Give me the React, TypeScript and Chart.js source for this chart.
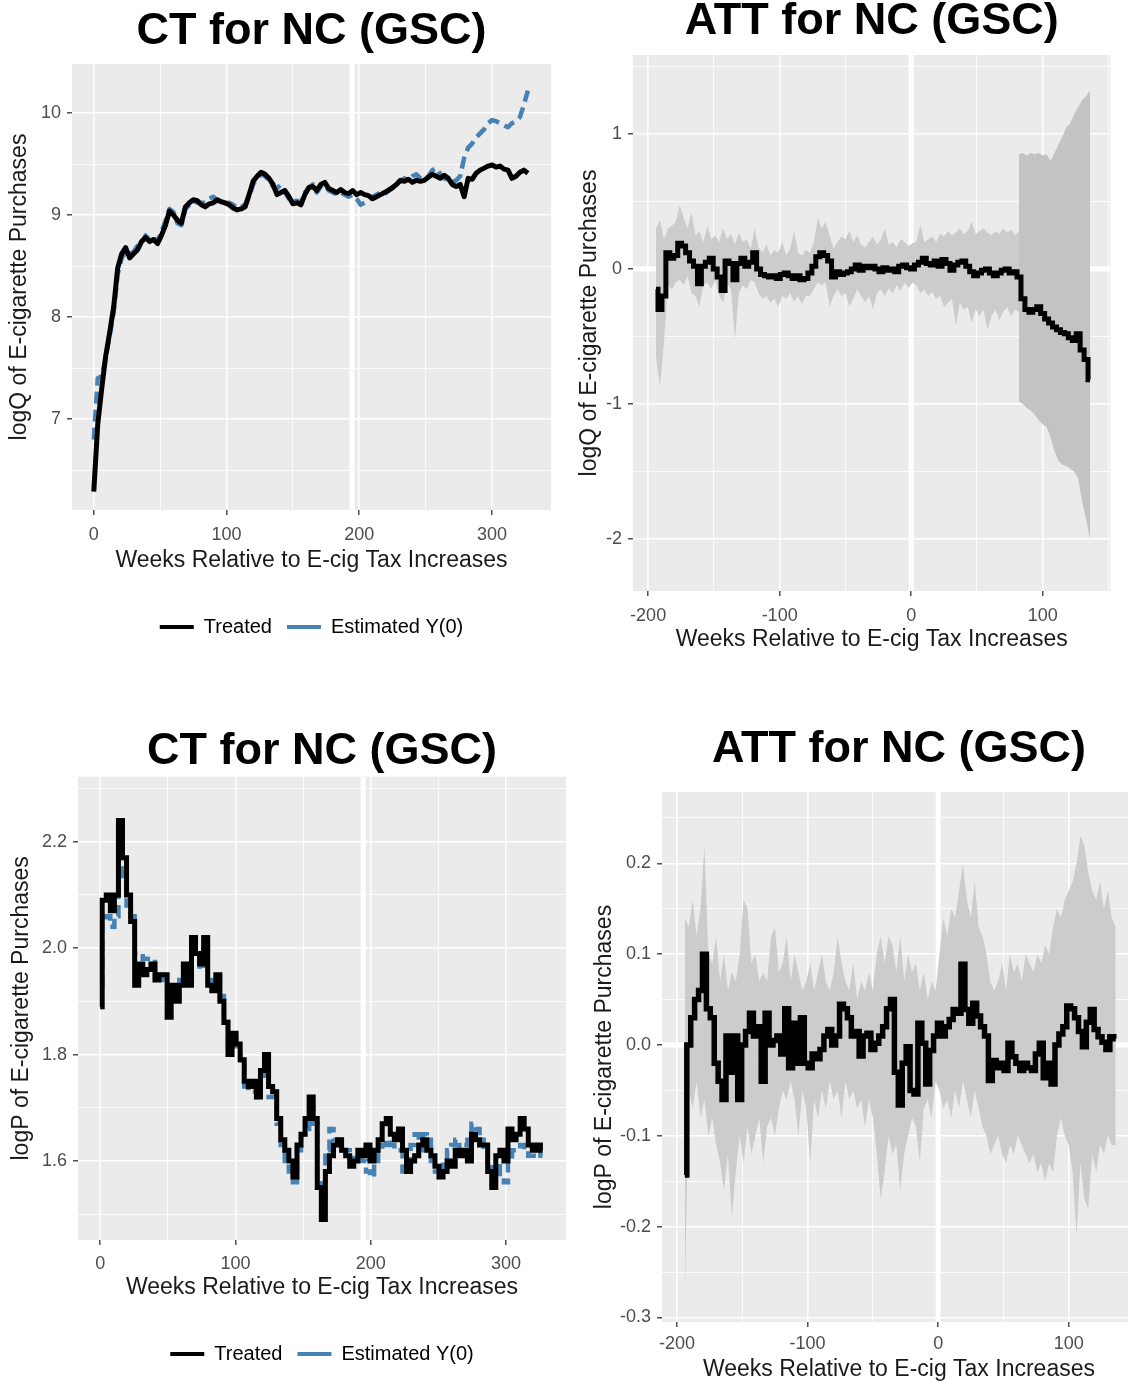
import React, { useEffect, useRef } from 'react';
import { Chart, registerables } from 'chart.js';

Chart.register(...registerables);

const FONT = "'Liberation Sans', Arial, Helvetica, sans-serif";
const WEEK_STEP = 3;
const CT_START_WEEK = 0;
const ATT_START_WEEK = -194;
const ATT_POST_START_WEEK = 82;
const TREATMENT_WEEK = 194.5;

const COLOR_TREATED = '#000000';
const COLOR_EST = '#4682B4';
const COLOR_BAND = '#CCCCCC';
const COLOR_BAND_POST = '#C3C3C3';
const COLOR_PANEL = '#EBEBEB';

const TITLE_CT = 'CT for NC (GSC)';
const TITLE_ATT = 'ATT for NC (GSC)';
const X_TITLE = 'Weeks Relative to E-cig Tax Increases';
const Y_TITLE_Q = 'logQ of E-cigarette Purchases';
const Y_TITLE_P = 'logP of E-cigarette Purchases';
const LEGEND_LABELS = ['Treated', 'Estimated Y(0)'];

// ---- tick values / labels ----
const ctXTicks = [0, 100, 200, 300];
const ctXTickLabels = ['0', '100', '200', '300'];
const ctXMinor = [50, 150, 250];
const attXTicks = [-200, -100, 0, 100];
const attXTickLabels = ['-200', '-100', '0', '100'];
const attXMinor = [-150, -50, 50, 150];
const qYTicks = [7, 8, 9, 10];
const qYTickLabels = ['7', '8', '9', '10'];
const qYMinor = [6.5, 7.5, 8.5, 9.5];
const attQYTicks = [-2, -1, 0, 1];
const attQYTickLabels = ['-2', '-1', '0', '1'];
const attQYMinor = [-1.5, -0.5, 0.5, 1.5];
const pYTicks = [1.6, 1.8, 2.0, 2.2];
const pYTickLabels = ['1.6', '1.8', '2.0', '2.2'];
const pYMinor = [1.5, 1.7, 1.9, 2.1, 2.3];
const attPYTicks = [-0.3, -0.2, -0.1, 0, 0.1, 0.2];
const attPYTickLabels = ['-0.3', '-0.2', '-0.1', '0.0', '0.1', '0.2'];
const attPYMinor = [-0.25, -0.15, -0.05, 0.05, 0.15, 0.25];

// ---- Panel 1: CT, logQ (weeks 0..327, every 3 weeks) ----
const ctLogQTreated = [
  6.29, 6.95, 7.3, 7.62, 7.85, 8.1, 8.48, 8.62, 8.68, 8.58,
  8.62, 8.66, 8.74, 8.78, 8.74, 8.76, 8.72, 8.8, 8.9, 9.04,
  9.0, 8.95, 8.92, 9.08, 9.12, 9.15, 9.14, 9.1, 9.08, 9.11,
  9.12, 9.15, 9.13, 9.12, 9.1, 9.07, 9.05, 9.06, 9.08, 9.2,
  9.33, 9.38, 9.42, 9.4, 9.36, 9.3, 9.2, 9.22, 9.24, 9.18,
  9.11, 9.12, 9.1, 9.2, 9.27, 9.28, 9.24, 9.3, 9.32, 9.26,
  9.24, 9.22, 9.25, 9.22, 9.21, 9.24, 9.2, 9.22, 9.2, 9.19,
  9.16, 9.18, 9.2, 9.22, 9.24, 9.27, 9.3, 9.34, 9.33, 9.35,
  9.32, 9.34, 9.33, 9.34, 9.37, 9.4, 9.38, 9.36, 9.39, 9.36,
  9.3, 9.28, 9.3, 9.18, 9.36, 9.35, 9.41, 9.44, 9.46, 9.48,
  9.49, 9.47, 9.48, 9.45, 9.44, 9.36, 9.38, 9.42, 9.44, 9.41,
];
const ctLogQEstimated = [
  6.8, 7.4, 7.42, 7.6, 7.82, 8.05, 8.42, 8.58, 8.64, 8.62,
  8.64, 8.7, 8.72, 8.8, 8.76, 8.78, 8.74, 8.84, 8.94, 9.06,
  9.03, 8.92, 8.9, 9.06, 9.1, 9.14, 9.12, 9.12, 9.12, 9.16,
  9.18, 9.14, 9.12, 9.11, 9.12, 9.1, 9.07, 9.08, 9.1, 9.18,
  9.3, 9.36, 9.4, 9.38, 9.34, 9.28, 9.26, 9.3, 9.22, 9.16,
  9.13, 9.14, 9.12, 9.22, 9.26, 9.3, 9.22, 9.28, 9.3, 9.24,
  9.22, 9.2, 9.22, 9.2, 9.18, 9.2, 9.16, 9.1, 9.12, 9.15,
  9.18, 9.2, 9.22, 9.2, 9.25, 9.26, 9.32, 9.33, 9.36, 9.34,
  9.38, 9.4, 9.36, 9.35, 9.38, 9.44, 9.46, 9.4, 9.36, 9.34,
  9.32, 9.34, 9.38, 9.56, 9.66, 9.7, 9.76, 9.8, 9.84, 9.9,
  9.93, 9.92, 9.9, 9.88, 9.86, 9.9, 9.92, 9.96, 10.08, 10.22,
];

// ---- Panel 2: ATT, logQ (weeks -194..136, every 3 weeks) ----
const attLogQ = [
  -0.15, -0.3, -0.2, 0.12, 0.08, 0.1, 0.19, 0.17, 0.12, 0.06,
  0.02, -0.11, 0.02, 0.05, 0.08, 0.0, -0.06, -0.16, 0.06, 0.04,
  -0.08, 0.04, 0.08, 0.02, 0.05, 0.12, 0.0, -0.04, -0.05, -0.06,
  -0.05, -0.07, -0.04, -0.03, -0.05, -0.07, -0.05, -0.08, -0.07, -0.03,
  0.02, 0.09, 0.12, 0.1, 0.06, -0.06, -0.02, -0.04, -0.03, -0.02,
  0.0, 0.03, -0.01, 0.02, 0.01, 0.02, 0.0, -0.02, 0.01, -0.01,
  0.0, -0.02, 0.02, 0.03, 0.01, 0.0, 0.03, 0.05, 0.08, 0.04,
  0.03, 0.06, 0.02, 0.07, 0.04, -0.01, 0.03, 0.05, 0.06, 0.02,
  -0.02, -0.05, -0.03, -0.01, 0.0, -0.03, -0.05, -0.03, -0.01, 0.0,
  -0.03, -0.02, -0.06, -0.22, -0.3, -0.32, -0.3, -0.28, -0.33, -0.37,
  -0.4, -0.43, -0.45, -0.47, -0.48, -0.51, -0.53, -0.48, -0.6, -0.67,
  -0.82,
];
const attLogQUpper = [
  0.3, 0.36, 0.22, 0.3, 0.32, 0.35, 0.47, 0.38, 0.3, 0.42,
  0.25, 0.28, 0.2, 0.32, 0.22, 0.25, 0.2, 0.3, 0.22, 0.26,
  0.18, 0.27, 0.2, 0.22, 0.15, 0.3, 0.16, 0.12, 0.18, 0.1,
  0.14, 0.12, 0.2, 0.1, 0.15, 0.28, 0.12, 0.1, 0.14, 0.12,
  0.2, 0.38, 0.3, 0.35, 0.25, 0.15, 0.2, 0.24, 0.22, 0.28,
  0.2, 0.25, 0.18, 0.16, 0.2, 0.24, 0.18, 0.22, 0.3, 0.18,
  0.2, 0.16, 0.22, 0.2, 0.17, 0.19, 0.2, 0.33, 0.2, 0.22,
  0.24, 0.2, 0.26, 0.24, 0.28, 0.25, 0.27, 0.3, 0.26, 0.28,
  0.35, 0.26, 0.28, 0.3, 0.27, 0.25, 0.28, 0.26, 0.3, 0.27,
  0.29, 0.25, 0.28,
];
const attLogQLower = [
  -0.65, -0.87, -0.55, -0.12, -0.15, -0.1, -0.08, -0.12, -0.05, -0.18,
  -0.2, -0.28, -0.12, -0.1, -0.15, -0.08, -0.2, -0.25, -0.1, -0.15,
  -0.52, -0.18, -0.12, -0.15, -0.08, -0.1, -0.18, -0.22, -0.2, -0.25,
  -0.22, -0.28, -0.2, -0.22, -0.18, -0.24, -0.2, -0.26, -0.2, -0.2,
  -0.15, -0.1, -0.12, -0.1, -0.28, -0.2, -0.15, -0.2, -0.18, -0.28,
  -0.22, -0.15, -0.2, -0.25, -0.2, -0.3, -0.18, -0.15, -0.2, -0.14,
  -0.18, -0.12, -0.16, -0.1, -0.14, -0.1, -0.12, -0.18, -0.15, -0.2,
  -0.17, -0.22, -0.2, -0.28, -0.25, -0.22, -0.42, -0.25, -0.3, -0.28,
  -0.4, -0.3, -0.35, -0.3, -0.45, -0.35, -0.3, -0.38, -0.32, -0.28,
  -0.35, -0.3, -0.32,
];
// weeks 82..136
const attLogQUpperPost = [
  0.85, 0.86, 0.84, 0.86, 0.85, 0.86, 0.84, 0.85, 0.8, 0.86,
  0.92, 0.98, 1.05, 1.08, 1.15, 1.2, 1.25, 1.28, 1.32,
];
const attLogQLowerPost = [
  -0.98, -1.0, -1.03, -1.05, -1.08, -1.12, -1.15, -1.17, -1.25, -1.35,
  -1.42, -1.45, -1.46, -1.48, -1.5, -1.55, -1.72, -1.85, -2.0,
];

// ---- Panel 3: CT, logP (weeks 0..327) ----
const ctLogPTreated = [
  1.89, 2.09, 2.1, 2.07, 2.1, 2.24, 2.17, 2.1, 2.05, 1.93,
  1.97, 1.95, 1.96, 1.97, 1.94, 1.95, 1.95, 1.87, 1.93, 1.9,
  1.93, 1.97, 1.93, 2.02, 1.99, 1.97, 2.02, 1.93, 1.92, 1.95,
  1.9, 1.86, 1.8, 1.84, 1.82, 1.79, 1.75, 1.74, 1.75, 1.72,
  1.77, 1.8, 1.74, 1.73, 1.68, 1.64, 1.62, 1.6, 1.57, 1.63,
  1.65, 1.68, 1.72, 1.68, 1.55, 1.49, 1.58, 1.61, 1.63, 1.64,
  1.62, 1.61, 1.59, 1.6, 1.62, 1.61, 1.63, 1.6, 1.62, 1.64,
  1.67, 1.68, 1.65, 1.64, 1.66, 1.62, 1.58, 1.6, 1.61, 1.63,
  1.64, 1.62, 1.61, 1.59, 1.57, 1.58, 1.6, 1.59, 1.62, 1.61,
  1.62, 1.6, 1.65, 1.64, 1.63, 1.63, 1.58, 1.55, 1.61, 1.62,
  1.6, 1.66, 1.64, 1.65, 1.68, 1.66, 1.63, 1.62, 1.63, 1.62,
];
const ctLogPEstimated = [
  1.93, 2.05, 2.06, 2.04, 2.06, 2.17, 2.13, 2.08, 2.06, 1.99,
  1.99, 1.98, 1.98, 1.98, 1.95, 1.95, 1.94, 1.9, 1.92, 1.91,
  1.94, 1.96, 1.95, 2.01, 1.98, 1.96, 2.0, 1.94, 1.93, 1.94,
  1.91, 1.87, 1.82, 1.83, 1.81, 1.78, 1.74, 1.73, 1.73, 1.72,
  1.76, 1.77, 1.72, 1.72, 1.67, 1.63, 1.6, 1.58, 1.56, 1.62,
  1.65, 1.66, 1.7, 1.67, 1.57, 1.53, 1.62, 1.66, 1.64, 1.63,
  1.62, 1.62, 1.6, 1.61, 1.61, 1.6, 1.58, 1.57, 1.6, 1.62,
  1.63, 1.64, 1.63, 1.62, 1.62, 1.58, 1.59, 1.63, 1.65, 1.62,
  1.65, 1.64, 1.6, 1.58, 1.57, 1.6, 1.62, 1.63, 1.64, 1.62,
  1.63, 1.64, 1.67, 1.66, 1.64, 1.62, 1.6, 1.58, 1.59, 1.57,
  1.56, 1.6, 1.62, 1.62, 1.63, 1.62, 1.61, 1.61, 1.62, 1.61,
];

// ---- Panel 4: ATT, logP (weeks -194..136) ----
const attLogP = [
  -0.143, 0.0, 0.03, 0.05, 0.06, 0.1, 0.04, 0.03, -0.02, -0.04,
  -0.06, 0.01, -0.03, 0.01, -0.06, 0.0, 0.015, 0.035, 0.01, 0.02,
  -0.04, 0.035, 0.0, 0.005, 0.01, -0.01, 0.04, -0.025, 0.024, -0.02,
  0.03, -0.02, -0.025, -0.01, -0.015, -0.005, 0.01, 0.017, 0.0, 0.01,
  0.045, 0.04, 0.03, 0.01, 0.015, -0.012, 0.01, 0.013, -0.005, 0.002,
  0.01, 0.02, 0.04, 0.05, -0.03, -0.066, -0.02, -0.002, -0.05, -0.054,
  0.024, 0.002, -0.043, -0.006, 0.01, 0.024, 0.01, 0.02, 0.028, 0.039,
  0.035, 0.089, 0.039, 0.024, 0.046, 0.032, 0.02, 0.01, -0.039, -0.017,
  -0.025, -0.02, -0.028, 0.002, -0.013, -0.02, -0.028, -0.02, -0.025, -0.028,
  -0.01, 0.002, -0.036, -0.02, -0.043, 0.0, 0.012, 0.02, 0.043, 0.04,
  0.03, 0.015, -0.002, 0.025, 0.039, 0.017, 0.009, 0.003, -0.005, 0.009,
  0.007,
];
const attLogPUpper = [
  0.14, 0.13, 0.16, 0.12, 0.15, 0.22, 0.1, 0.09, 0.12, 0.07,
  0.1, 0.06, 0.08, 0.07, 0.1, 0.16, 0.15, 0.09, 0.1, 0.07,
  0.08, 0.07, 0.12, 0.13, 0.08, 0.09, 0.12, 0.07, 0.1, 0.08,
  0.06, 0.07, 0.09, 0.06, 0.08, 0.1, 0.07, 0.06, 0.08, 0.12,
  0.09, 0.07, 0.06, 0.09, 0.05, 0.07, 0.06, 0.08, 0.06, 0.1,
  0.12, 0.09, 0.12, 0.11, 0.08, 0.12, 0.07, 0.1, 0.08, 0.09,
  0.06, 0.08, 0.05, 0.07, 0.06, 0.1, 0.14, 0.12, 0.15, 0.14,
  0.17, 0.2, 0.16, 0.14, 0.18, 0.13, 0.12, 0.1, 0.07, 0.06,
  0.07, 0.09, 0.06, 0.1, 0.08, 0.09, 0.07, 0.1, 0.09, 0.08,
  0.1, 0.09, 0.11, 0.1, 0.13, 0.15, 0.14, 0.16, 0.17, 0.18,
  0.2, 0.23, 0.22, 0.19, 0.17, 0.16, 0.18, 0.15, 0.17, 0.14,
  0.13,
];
const attLogPLower = [
  -0.28, -0.05, -0.07, -0.04, -0.08, -0.06, -0.1, -0.08, -0.11, -0.13,
  -0.16, -0.12, -0.19, -0.14, -0.1, -0.13, -0.09, -0.12, -0.1, -0.08,
  -0.13, -0.09, -0.08, -0.1, -0.07, -0.05, -0.06, -0.04, -0.06, -0.1,
  -0.05, -0.07, -0.13, -0.06, -0.08, -0.05, -0.07, -0.04, -0.06, -0.05,
  -0.08, -0.04, -0.06, -0.05, -0.07, -0.06, -0.09, -0.06, -0.08, -0.12,
  -0.17, -0.14, -0.1, -0.12, -0.11, -0.16, -0.12, -0.1, -0.08, -0.09,
  -0.13, -0.07, -0.06, -0.08, -0.04, -0.05, -0.07, -0.06, -0.08, -0.05,
  -0.07, -0.04, -0.06, -0.08, -0.05, -0.07, -0.09, -0.1, -0.12, -0.11,
  -0.1, -0.12, -0.13, -0.11, -0.12, -0.1, -0.11, -0.12, -0.13, -0.12,
  -0.14, -0.13, -0.15, -0.13, -0.14, -0.1, -0.08, -0.1, -0.11, -0.14,
  -0.21, -0.13, -0.17, -0.18, -0.12, -0.14, -0.11, -0.12, -0.1, -0.11,
  -0.11,
];

// ---------------------------------------------------------------

const toPoints = (start: number, values: number[]) =>
  values.map((y, i) => ({ x: start + i * WEEK_STEP, y }));

type AxisSpec = {
  min: number; max: number; major: number[]; labels: string[]; minor: number[];
  title: string; size: number; tickPad: number; titlePad: number;
};

function buildAxis(a: AxisSpec, horizontal: boolean) {
  const all = [...a.major, ...a.minor].sort((p, q) => p - q);
  const idx = (v: number) => a.major.findIndex((m) => Math.abs(m - v) < 1e-9);
  const isMajor = (c: any) => !!(c && c.tick && idx(c.tick.value) >= 0);
  return {
    type: 'linear',
    min: a.min,
    max: a.max,
    afterBuildTicks: (s: any) => { s.ticks = all.map((value) => ({ value })); },
    afterFit: (s: any) => { if (horizontal) s.height = a.size; else s.width = a.size; },
    border: { display: false },
    grid: {
      color: '#FFFFFF',
      lineWidth: (c: any) => (isMajor(c) ? 1.6 : 0.8),
      drawTicks: true,
      tickLength: 5,
      tickWidth: 1.3,
      tickColor: (c: any) => (isMajor(c) ? '#333333' : 'rgba(0,0,0,0)'),
    },
    ticks: {
      autoSkip: false, maxRotation: 0, minRotation: 0, padding: a.tickPad,
      color: '#4D4D4D', font: { family: FONT, size: 18 },
      callback: (v: any) => { const i = idx(Number(v)); return i >= 0 ? a.labels[i] : ''; },
    },
    title: {
      display: true, text: a.title, color: '#1A1A1A', font: { family: FONT, size: 23 },
      padding: horizontal ? { top: 0, bottom: a.titlePad } : { top: a.titlePad, bottom: 0 },
    },
  };
}

const ggPanelPlugin = {
  id: 'ggPanel',
  beforeDraw(chart: any) {
    const { ctx, chartArea: a } = chart;
    ctx.save();
    ctx.fillStyle = COLOR_PANEL;
    ctx.fillRect(a.left, a.top, a.right - a.left, a.bottom - a.top);
    ctx.restore();
  },
  beforeDatasetsDraw(chart: any, _args: any, opts: any) {
    const { ctx, chartArea: a, scales } = chart;
    ctx.save();
    ctx.beginPath();
    ctx.rect(a.left, a.top, a.right - a.left, a.bottom - a.top);
    ctx.clip();
    ctx.strokeStyle = '#FFFFFF';
    ctx.lineWidth = 5;
    (opts.vlines || []).forEach((v: number) => {
      const px = scales.x.getPixelForValue(v);
      ctx.beginPath(); ctx.moveTo(px, a.top); ctx.lineTo(px, a.bottom); ctx.stroke();
    });
    (opts.hlines || []).forEach((v: number) => {
      const py = scales.y.getPixelForValue(v);
      ctx.beginPath(); ctx.moveTo(a.left, py); ctx.lineTo(a.right, py); ctx.stroke();
    });
    ctx.restore();
  },
};

type PanelSpec = {
  box: { left: number; top: number; width: number; height: number };
  padding: { top: number; right: number; bottom: number; left: number };
  title: string;
  titlePad: { top: number; bottom: number };
  x: AxisSpec;
  y: AxisSpec;
  legend: boolean;
  vlines: number[];
  hlines: number[];
  datasets: any[];
};

const lineDs = (
  label: string, data: any[], color: string, width: number, order: number,
  dash: number[] = [], stepped: any = 'middle',
) => ({
  label, data, borderColor: color, backgroundColor: color, borderWidth: width, borderDash: dash,
  pointRadius: 0, tension: 0, fill: false, order, stepped,
  borderJoinStyle: stepped ? 'miter' : 'round', borderCapStyle: 'butt',
});
const bandDs = (label: string, data: any[], color: string, order: number, fill: any) => ({
  label, data, borderColor: 'rgba(0,0,0,0)', backgroundColor: color, borderWidth: 0,
  pointRadius: 0, tension: 0, fill, order,
});

function buildConfig(s: PanelSpec): any {
  return {
    type: 'line',
    data: { datasets: s.datasets },
    plugins: [ggPanelPlugin],
    options: {
      responsive: false,
      animation: false,
      events: [],
      devicePixelRatio: 1,
      layout: { padding: s.padding },
      scales: { x: buildAxis(s.x, true), y: buildAxis(s.y, false) },
      plugins: {
        title: {
          display: true, text: s.title, fullSize: false, color: '#000000',
          font: { family: FONT, size: 45, weight: 'bold', lineHeight: 1.1 },
          padding: s.titlePad,
        },
        legend: s.legend
          ? {
              display: true, position: 'bottom', fullSize: false,
              labels: {
                usePointStyle: true, pointStyleWidth: 34, padding: 15, color: '#1A1A1A',
                font: { family: FONT, size: 20 },
                generateLabels: () => [
                  { text: LEGEND_LABELS[0], fillStyle: COLOR_TREATED, strokeStyle: COLOR_TREATED, lineWidth: 4, lineDash: [], pointStyle: 'line', hidden: false, datasetIndex: 0 },
                  { text: LEGEND_LABELS[1], fillStyle: COLOR_EST, strokeStyle: COLOR_EST, lineWidth: 4, lineDash: [], pointStyle: 'line', hidden: false, datasetIndex: 1 },
                ],
              },
            }
          : { display: false },
        tooltip: { enabled: false },
        ggPanel: { vlines: s.vlines, hlines: s.hlines },
      },
    },
  };
}

const PANELS: PanelSpec[] = [
  {
    box: { left: 0, top: 0, width: 564, height: 660 },
    padding: { top: 0, right: 13, bottom: 13, left: 0 },
    title: TITLE_CT,
    titlePad: { top: 7.25, bottom: 7.25 },
    x: { min: -16.4, max: 344.4, major: ctXTicks, labels: ctXTickLabels, minor: ctXMinor, title: X_TITLE, size: 92, tickPad: 9, titlePad: 27.2 },
    y: { min: 6.11, max: 10.48, major: qYTicks, labels: qYTickLabels, minor: qYMinor, title: Y_TITLE_Q, size: 72, tickPad: 6, titlePad: 6.2 },
    legend: true,
    vlines: [TREATMENT_WEEK],
    hlines: [],
    datasets: [
      lineDs(LEGEND_LABELS[0], toPoints(CT_START_WEEK, ctLogQTreated), COLOR_TREATED, 5, 0, [], false),
      lineDs(LEGEND_LABELS[1], toPoints(CT_START_WEEK, ctLogQEstimated), COLOR_EST, 4.5, 1, [12, 6], false),
    ],
  },
  {
    box: { left: 564, top: -5, width: 564, height: 666 },
    padding: { top: 0, right: 17.6, bottom: 0, left: 0 },
    title: TITLE_ATT,
    titlePad: { top: 2.25, bottom: 8.25 },
    x: { min: -211.5, max: 151.5, major: attXTicks, labels: attXTickLabels, minor: attXMinor, title: X_TITLE, size: 70, tickPad: 9, titlePad: 7.2 },
    y: { min: -2.385, max: 1.585, major: attQYTicks, labels: attQYTickLabels, minor: attQYMinor, title: Y_TITLE_Q, size: 69, tickPad: 6, titlePad: 12.2 },
    legend: false,
    vlines: [0],
    hlines: [0],
    datasets: [
      lineDs('ATT', toPoints(ATT_START_WEEK, attLogQ), COLOR_TREATED, 5, 0),
      bandDs('CI post upper', toPoints(ATT_POST_START_WEEK, attLogQUpperPost), COLOR_BAND_POST, 1, '+1'),
      bandDs('CI post lower', toPoints(ATT_POST_START_WEEK, attLogQLowerPost), COLOR_BAND_POST, 2, false),
      bandDs('CI upper', toPoints(ATT_START_WEEK, attLogQUpper), COLOR_BAND, 3, '+1'),
      bandDs('CI lower', toPoints(ATT_START_WEEK, attLogQLower), COLOR_BAND, 4, false),
    ],
  },
  {
    box: { left: 0, top: 690, width: 580, height: 696 },
    padding: { top: 0, right: 14, bottom: 12, left: 0 },
    title: TITLE_CT,
    titlePad: { top: 37.25, bottom: 0 },
    x: { min: -16.4, max: 344.4, major: ctXTicks, labels: ctXTickLabels, minor: ctXMinor, title: X_TITLE, size: 89, tickPad: 8, titlePad: 27.2 },
    y: { min: 1.4515, max: 2.322, major: pYTicks, labels: pYTickLabels, minor: pYMinor, title: Y_TITLE_P, size: 78, tickPad: 6, titlePad: 8.2 },
    legend: true,
    vlines: [TREATMENT_WEEK],
    hlines: [],
    datasets: [
      lineDs(LEGEND_LABELS[0], toPoints(CT_START_WEEK, ctLogPTreated), COLOR_TREATED, 5, 0),
      lineDs(LEGEND_LABELS[1], toPoints(CT_START_WEEK, ctLogPEstimated), COLOR_EST, 4.5, 1, [12, 6]),
    ],
  },
  {
    box: { left: 580, top: 690, width: 560, height: 696 },
    padding: { top: 0, right: 3.5, bottom: 0, left: 0 },
    title: TITLE_ATT,
    titlePad: { top: 35.25, bottom: 17.25 },
    x: { min: -211.5, max: 151.5, major: attXTicks, labels: attXTickLabels, minor: attXMinor, title: X_TITLE, size: 64, tickPad: 6, titlePad: 2.2 },
    y: { min: -0.305, max: 0.2786, major: attPYTicks, labels: attPYTickLabels, minor: attPYMinor, title: Y_TITLE_P, size: 82, tickPad: 6, titlePad: 11.2 },
    legend: false,
    vlines: [0],
    hlines: [0],
    datasets: [
      lineDs('ATT', toPoints(ATT_START_WEEK, attLogP), COLOR_TREATED, 5.5, 0),
      bandDs('CI upper', toPoints(ATT_START_WEEK, attLogPUpper), COLOR_BAND, 1, '+1'),
      bandDs('CI lower', toPoints(ATT_START_WEEK, attLogPLower), COLOR_BAND, 2, false),
    ],
  },
];

function Panel({ spec }: { spec: PanelSpec }) {
  const ref = useRef<HTMLCanvasElement>(null);
  useEffect(() => {
    if (!ref.current) return;
    const chart = new Chart(ref.current, buildConfig(spec));
    return () => chart.destroy();
  }, [spec]);
  const b = spec.box;
  return (
    <canvas
      ref={ref}
      width={b.width}
      height={b.height}
      style={{ position: 'absolute', left: b.left, top: b.top, width: b.width, height: b.height }}
    />
  );
}

export default function App() {
  return (
    <div
      style={{
        position: 'absolute', left: 0, top: 0, width: 1128, height: 1386,
        overflow: 'hidden', background: '#FFFFFF',
      }}
    >
      {PANELS.map((p, i) => (
        <Panel key={i} spec={p} />
      ))}
    </div>
  );
}
